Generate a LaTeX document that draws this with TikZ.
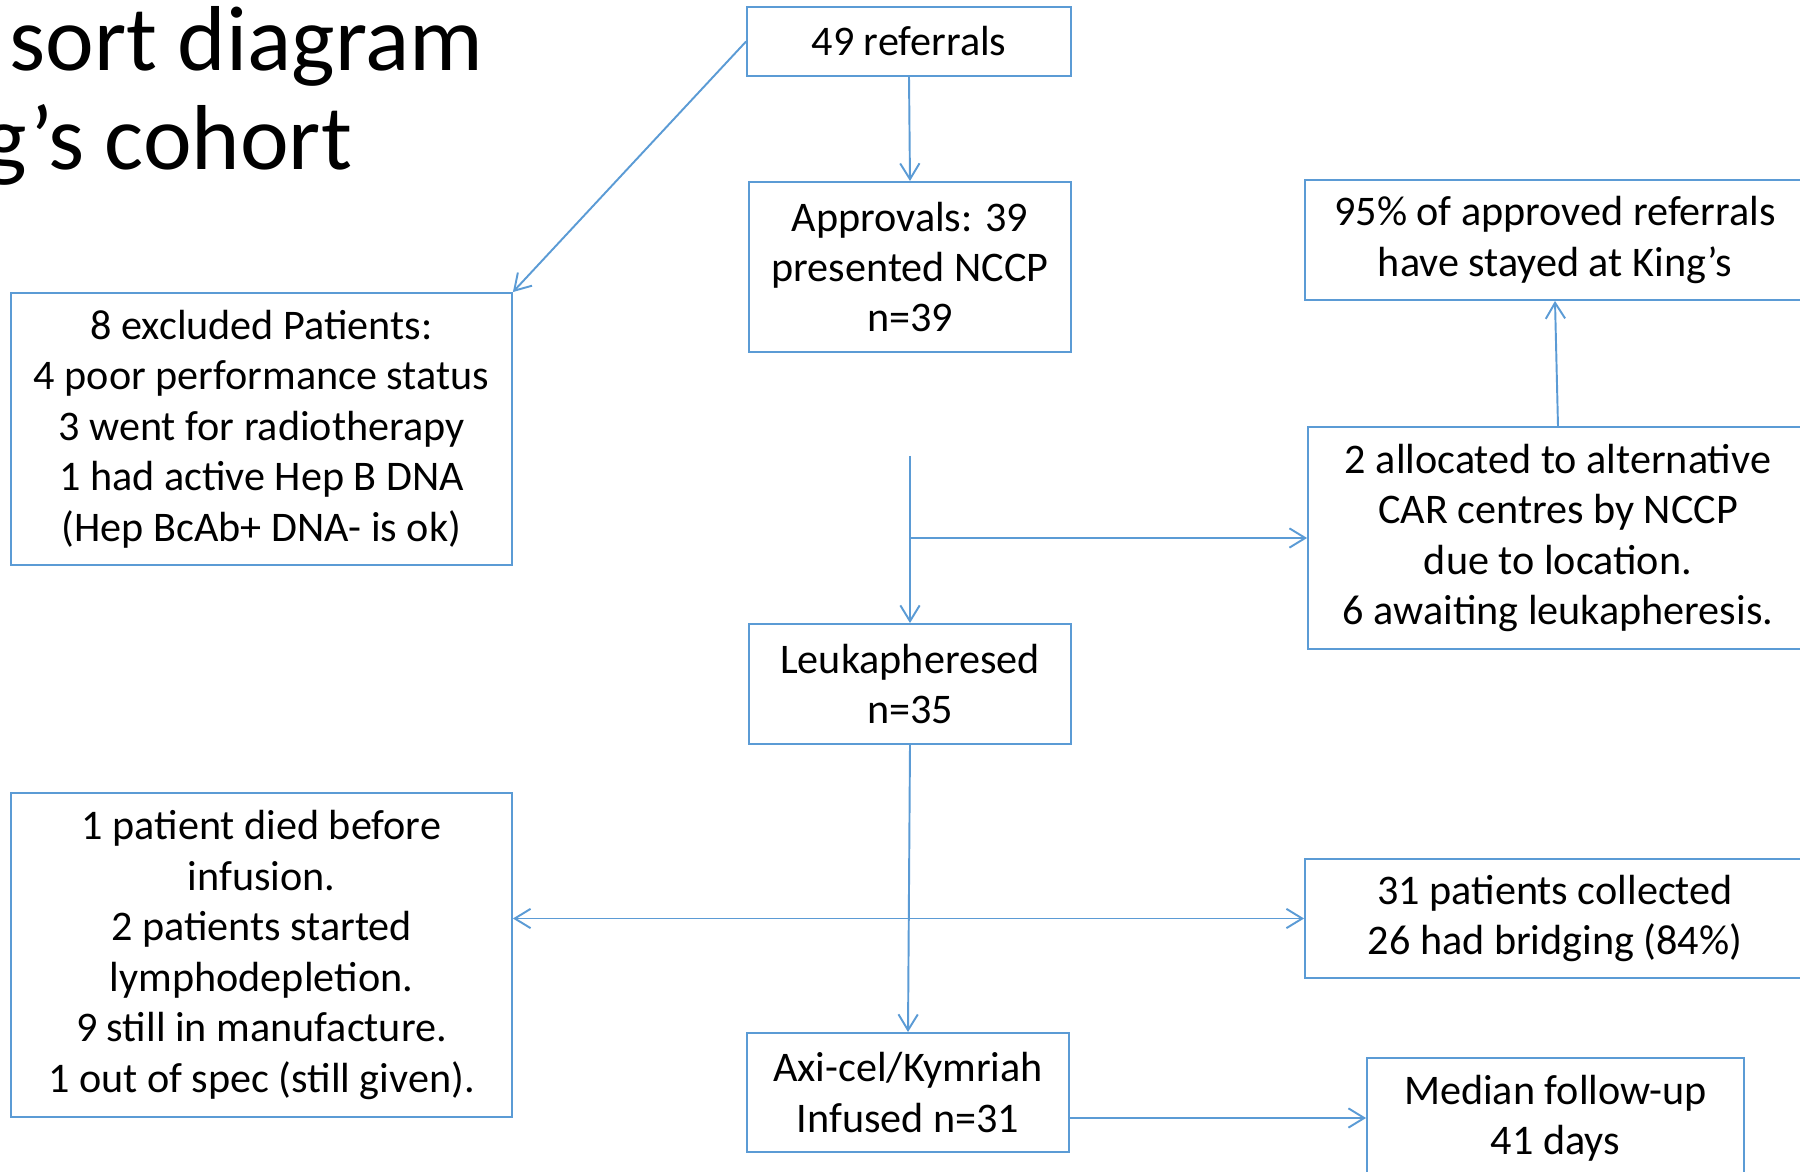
\documentclass[tikz,border=0pt]{standalone}
\usepackage{fontspec}
\setmainfont{Carlito}
\usetikzlibrary{arrows.meta}
\definecolor{flowblue}{HTML}{5B9BD5}

\tikzset{
  box/.style={draw=flowblue, line width=1.1pt, align=center, inner sep=0pt,
    font=\fontsize{24}{28.7}\selectfont},
  headline/.style={inner sep=0pt, anchor=base west, font=\fontsize{52.5}{60}\selectfont},
  link/.style={draw=flowblue, line width=1.1pt, -{Straight Barb[length=9pt,width=11pt]}},
  twoway/.style={link, {Straight Barb[length=9pt,width=11pt]}-{Straight Barb[length=9pt,width=11pt]}},
}

\begin{document}
\begin{tikzpicture}[x=0.02cm, y=-0.02cm]
\useasboundingbox (0,0) rectangle (1800,1172);
\clip (0,0) rectangle (1800,1172);
% title, cut at the left edge
\node[headline] (title1) at (9,71) {sort diagram};
\node[headline] (title2) at (-17,170) {g’s cohort};
% main column
\node[box, minimum width=6.48cm, minimum height=1.38cm] (ref) at (909,41.5) {49 referrals};
\node[box, minimum width=6.44cm, minimum height=3.4cm] (appr) at (910,267) {Approvals: 39\\presented NCCP\\n=39};
\node[box, minimum width=6.44cm, minimum height=2.4cm] (leuk) at (910,684) {Leukapheresed\\n=35};
\node[box, minimum width=6.44cm, minimum height=2.38cm] (inf) at (908,1092.5) {Axi-cel/Kymriah\\Infused n=31};
% left side
\node[box, minimum width=10.02cm, minimum height=5.44cm] (excl) at (261.5,429) {8 excluded Patients:\\4 poor performance status\\3 went for radiotherapy\\1 had active Hep B DNA\\(Hep BcAb+ DNA- is ok)};
\node[box, minimum width=10.02cm, minimum height=6.48cm] (died) at (261.5,955) {1 patient died before\\infusion.\\2 patients started\\lymphodepletion.\\9 still in manufacture.\\1 out of spec (still given).};
% right side
\node[box, minimum width=10cm, minimum height=2.4cm] (stay) at (1555,240) {95\% of approved referrals\\have stayed at King’s};
\node[box, minimum width=10cm, minimum height=4.44cm] (alloc) at (1558,538) {2 allocated to alternative\\CAR centres by NCCP\\due to location.\\6 awaiting leukapheresis.};
\node[box, minimum width=10cm, minimum height=2.38cm] (coll) at (1555,918.5) {31 patients collected\\26 had bridging (84\%)};
\node[box, minimum width=7.54cm, minimum height=2.4cm] (fup) at (1555.5,1118) {Median follow-up\\41 days};
% connectors
\coordinate (split) at (910,456);
\draw[link] (ref.west) -- (excl.north east);
\draw[link] (ref.south) -- (appr.north);
\draw[link] (split) -- (leuk.north);
\draw[link] (split |- alloc.west) -- (alloc.west);
\draw[link] (alloc.north) -- (stay.south);
\draw[link] (leuk.south) -- (inf.north);
\draw[twoway] (coll.west -| died.east) -- (coll.west);
\draw[link] (fup.west -| inf.east) -- (fup.west);
\end{tikzpicture}
\end{document}
